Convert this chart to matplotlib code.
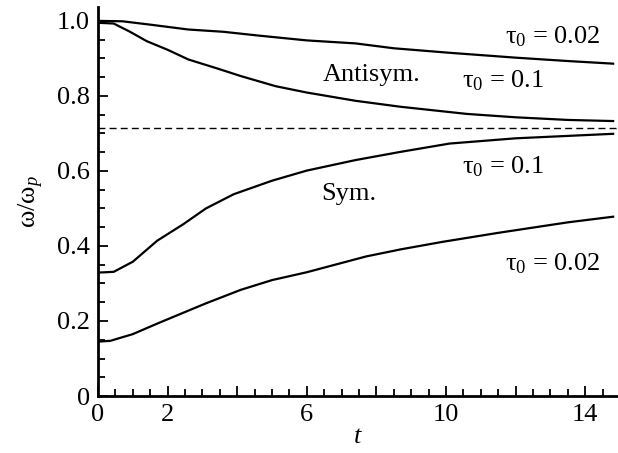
import numpy as np
import matplotlib
matplotlib.use("Agg")
import matplotlib.pyplot as plt
from matplotlib.ticker import MultipleLocator, FixedLocator

plt.rcParams['font.family'] = ['Liberation Serif', 'DejaVu Serif']
plt.rcParams['mathtext.fontset'] = 'custom'
plt.rcParams['mathtext.rm'] = 'Liberation Serif'
plt.rcParams['mathtext.it'] = 'Liberation Serif:italic'
plt.rcParams['mathtext.default'] = 'regular'

# curves
t_anti_002 = [0, 0.7, 1.5, 2.6, 3.6, 4.6, 6.0, 7.4, 8.5, 10.1, 12.0, 13.5, 14.8]
w_anti_002 = [1.000, 0.999, 0.990, 0.977, 0.971, 0.961, 0.948, 0.940, 0.927, 0.915, 0.902, 0.893, 0.886]

t_anti_01 = [0, 0.45, 0.9, 1.4, 2.0, 2.6, 3.4, 4.1, 5.1, 6.0, 7.4, 8.7, 10.6, 12.0, 13.5, 14.8]
w_anti_01 = [0.995, 0.993, 0.972, 0.946, 0.923, 0.897, 0.874, 0.853, 0.826, 0.809, 0.787, 0.771, 0.752, 0.743, 0.736, 0.733]

t_sym_01 = [0, 0.45, 1.0, 1.7, 2.45, 3.1, 3.9, 5.0, 6.0, 7.4, 8.7, 10.1, 12.0, 14.8]
w_sym_01 = [0.329, 0.331, 0.358, 0.414, 0.458, 0.500, 0.538, 0.574, 0.601, 0.629, 0.651, 0.673, 0.687, 0.699]

t_sym_002 = [0, 0.35, 1.0, 1.7, 2.45, 3.1, 4.1, 5.0, 6.0, 7.7, 8.7, 9.9, 11.5, 13.5, 14.8]
w_sym_002 = [0.145, 0.147, 0.165, 0.193, 0.222, 0.247, 0.283, 0.309, 0.330, 0.372, 0.391, 0.411, 0.435, 0.463, 0.478]

w_limit = 0.714

x_ticks = [0, 2, 4, 6, 8, 10, 12, 14]
x_labels = ['0', '2', '', '6', '', '10', '', '14']
y_ticks = [0, 0.2, 0.4, 0.6, 0.8, 1.0]
y_labels = ['0', '0.2', '0.4', '0.6', '0.8', '1.0']

fig = plt.figure(figsize=(6.18, 4.53), dpi=100)
ax = fig.add_axes([0.1586, 0.1258, 0.8414, 0.8587])

for t, w in [(t_anti_002, w_anti_002), (t_anti_01, w_anti_01),
             (t_sym_01, w_sym_01), (t_sym_002, w_sym_002)]:
    ax.plot(t, w, color='black', lw=1.6)

ax.axhline(w_limit, color='black', lw=1.0, ls=(0, (5, 3)))

ax.set_xlim(0, 14.94)
ax.set_ylim(0, 1.037)

ax.xaxis.set_major_locator(FixedLocator(x_ticks))
ax.set_xticklabels(x_labels)
ax.xaxis.set_minor_locator(MultipleLocator(0.5))
ax.yaxis.set_major_locator(FixedLocator(y_ticks))
ax.set_yticklabels(y_labels)
ax.yaxis.set_minor_locator(MultipleLocator(0.05))

ax.spines['top'].set_visible(False)
ax.spines['right'].set_visible(False)
ax.spines['left'].set_linewidth(2)
ax.spines['bottom'].set_linewidth(2)
ax.tick_params(which='both', direction='in', labelsize=19, width=1.3)
ax.tick_params(which='major', length=7, pad=6)
ax.tick_params(which='minor', length=5)

ax.set_xlabel('$\\mathit{t}$', fontsize=19, labelpad=0)
ax.set_ylabel('ω/ω$_{\\mathit{p}}$', fontsize=19, labelpad=8)

ax.text(11.7, 0.941, 'τ$_0$ = 0.02', fontsize=19, ha='left', va='baseline')
ax.text(6.45, 0.840, 'Antisym.', fontsize=19, ha='left', va='baseline')
ax.text(10.45, 0.823, 'τ$_0$ = 0.1', fontsize=19, ha='left', va='baseline')
ax.text(10.45, 0.594, 'τ$_0$ = 0.1', fontsize=19, ha='left', va='baseline')
ax.text(6.4, 0.523, 'Sym.', fontsize=19, ha='left', va='baseline')
ax.text(11.7, 0.336, 'τ$_0$ = 0.02', fontsize=19, ha='left', va='baseline')

fig.savefig('out.png', dpi=100)
